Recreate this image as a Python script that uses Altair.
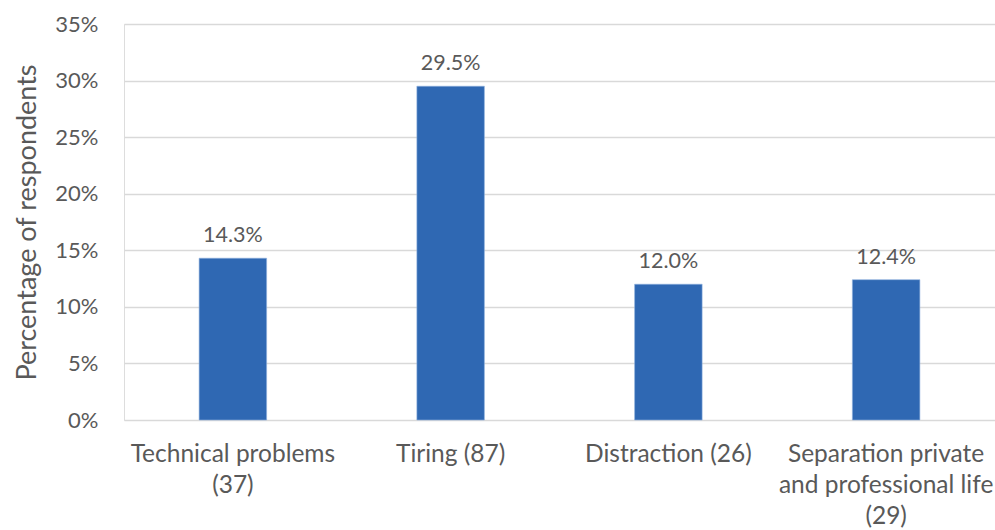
import altair as alt
import pandas as pd

# Survey results: share of respondents naming each disadvantage (count in brackets)
categories = ["Technical problems", "Tiring", "Distraction", "Separation private and professional life"]
label_lines = [
    ["Technical problems", "(37)"],
    ["Tiring (87)"],
    ["Distraction (26)"],
    ["Separation private", "and professional life", "(29)"],
]
shares = [0.143, 0.295, 0.120, 0.124]
y_ticks = [0, 0.05, 0.10, 0.15, 0.20, 0.25, 0.30, 0.35]

df = pd.DataFrame({"category": categories, "share": shares})

# map each category to its multi-line axis label
label_map = {c: l for c, l in zip(categories, label_lines)}
label_expr = " : ".join(
    [f"datum.value === '{c}' ? {l!r}" for c, l in label_map.items()]
) + " : datum.label"

FONT = "Lato"
GREY = "#595959"

x = alt.X(
    "category:N",
    sort=categories,
    scale=alt.Scale(paddingInner=0.69, paddingOuter=0.345),
    axis=alt.Axis(
        title=None,
        labelAngle=0,
        labelExpr=label_expr,
        labelFontSize=24.5,
        labelColor=GREY,
        labelFont=FONT,
        labelPadding=22,
        labelLineHeight=31,
        labelBaseline="top",
        labelLimit=400,
        labelOverlap=False,
        ticks=False,
        domain=False,
    ),
)
y = alt.Y(
    "share:Q",
    scale=alt.Scale(domain=[0, 0.35], nice=False),
    axis=alt.Axis(
        values=y_ticks,
        format=".0%",
        title="Percentage of respondents",
        titleFont=FONT,
        titleFontSize=27,
        titleFontWeight="normal",
        titleColor=GREY,
        titleAngle=-90,
        titleX=-97,
        titleY=198,
        titleAlign="center",
        titleBaseline="middle",
        labelFont=FONT,
        labelFontSize=22,
        labelColor=GREY,
        labelPadding=26,
        ticks=False,
        domain=False,
        gridColor="#d9d9d9",
        gridWidth=1.5,
    ),
)

bars = alt.Chart(df).mark_bar(color="#2f68b3", stroke="#8fb0dd", strokeWidth=0.6).encode(x=x, y=y)
labels = alt.Chart(df).mark_text(
    baseline="bottom", dy=-11, fontSize=21.5, font=FONT, color=GREY
).encode(
    x=alt.X("category:N", sort=categories),
    y="share:Q",
    text=alt.Text("share:Q", format=".1%"),
)

chart = (
    alt.layer(bars, labels)
    .properties(
        width=871,
        height=396,
        autosize=alt.AutoSizeParams(type="none"),
        padding={"left": 124, "top": 24, "right": 0, "bottom": 110},
    )
    .configure_view(stroke=None)
    .configure(background="white")
)

chart.save("out.html", embed_options={"renderer": "svg", "actions": False})
